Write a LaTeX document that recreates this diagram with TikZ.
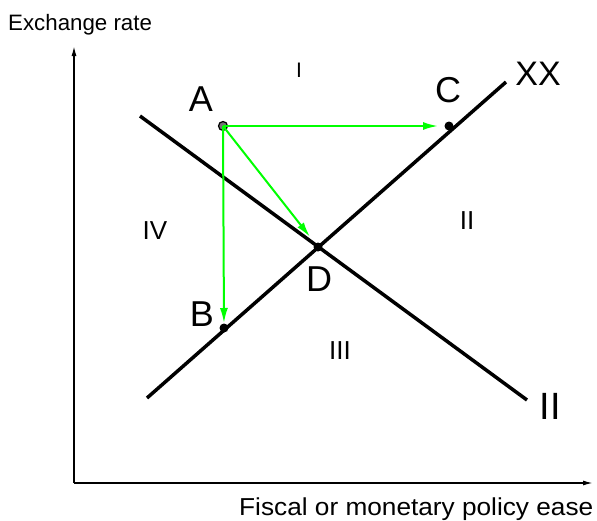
\documentclass[tikz,border=0pt]{standalone}
\usepackage{fontspec}
\setmainfont{Liberation Sans}
\usetikzlibrary{arrows.meta}
\begin{document}
\begin{tikzpicture}[x=1pt,y=-1pt,
  axisline/.style={line width=1.5pt,-{Latex[length=10pt,width=5pt]}},
  curveline/.style={line width=3.5pt},
  greenarrow/.style={line width=2pt,color=green,-{Latex[length=15pt,width=8pt]}},
  dotnode/.style={circle,inner sep=0pt,minimum size=9pt,fill=black},
  biglabel/.style={anchor=base,inner sep=0pt,font=\fontsize{36}{40}\selectfont},
  numlabel/.style={anchor=base,inner sep=0pt,font=\fontsize{26}{30}\selectfont},
  axislabel/.style={anchor=base west,inner sep=0pt}]
\useasboundingbox (0,0) rectangle (597,520);
% axes
\coordinate (O) at (74,483);
\coordinate (Ytip) at (74,46);
\coordinate (Xtip) at (593,483);
\draw[axisline] (O) -- (Ytip);
\draw[axisline] (O) -- (Xtip);
\node[axislabel,font=\fontsize{22.3}{26}\selectfont] (ylab) at (8,30) {Exchange rate};
\node[axislabel,font=\fontsize{24.5}{28}\selectfont,xscale=1.07,transform shape] (xlab) at (239,515) {Fiscal or monetary policy ease};
% lines
\coordinate (IIs) at (140,116);
\coordinate (IIe) at (527,400);
\coordinate (XXs) at (147,398);
\coordinate (XXe) at (506,82);
\draw[curveline] (IIs) -- (IIe);
\draw[curveline] (XXs) -- (XXe);
% points
\node[dotnode] (D) at (318,247) {};
\node[dotnode] (B) at (224,328) {};
\node[dotnode] (C) at (449,126) {};
\node[dotnode,draw=black,fill=black!55,line width=1.2pt] (A) at (223,126) {};
% green arrows
\draw[greenarrow,shorten >=11pt] (A.center) -- (C.center);
\draw[greenarrow,shorten >=13pt] (A.center) -- (D.center);
\draw[greenarrow,shorten >=5pt] (A.center) -- (B.center);
% labels
\node[biglabel] (lA) at (201,111) {A};
\node[biglabel] (lC) at (448,102) {C};
\node[biglabel] (lB) at (202,326) {B};
\node[biglabel] (lD) at (319,291) {D};
\node[biglabel,font=\fontsize{34}{38}\selectfont] (lXX) at (538,85) {XX};
\node[biglabel,font=\fontsize{38}{42}\selectfont] (lII) at (550,419) {II};
% region numerals
\node[numlabel,font=\fontsize{21}{25}\selectfont] (rI) at (299,77) {I};
\node[numlabel] (rII) at (467,229) {II};
\node[numlabel] (rIII) at (340,359) {III};
\node[numlabel] (rIV) at (155,239) {IV};
\end{tikzpicture}
\end{document}
